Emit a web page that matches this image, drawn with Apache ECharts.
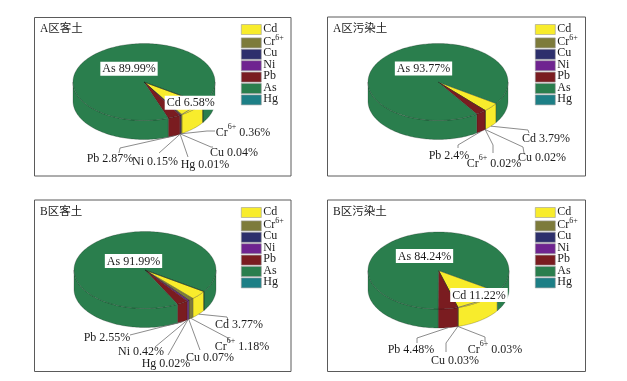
<!DOCTYPE html>
<html>
<head>
<meta charset="utf-8">
<style>html,body{margin:0;padding:0;background:#fff}#c{width:627px;height:381px}</style>
<script src="https://cdn.jsdelivr.net/npm/echarts@6/dist/echarts.min.js"></script>
</head>
<body>
<div id="c"></div>
<script>
// ---- data ----
const categories = ['Cd', 'Cr6+', 'Cu', 'Ni', 'Pb', 'As', 'Hg'];
const panelTitles = ['A区客土', 'A区污染土', 'B区客土', 'B区污染土'];
const valuesA1 = [6.58, 0.36, 0.04, 0.15, 2.87, 89.99, 0.01];
const valuesA2 = [3.79, 0.02, 0.02, 0, 2.4, 93.77, 0];
const valuesB1 = [3.77, 1.18, 0.07, 0.42, 2.55, 91.99, 0.02];
const valuesB2 = [11.22, 0.03, 0.03, 0, 4.48, 84.24, 0];

// ---- styles ----
const colors = ['#f8ec2c', '#7d7b3b', '#2d2f6c', '#6f2490', '#7a1c20', '#2a7e4d', '#1d7f86'];
const SERIF = '"Liberation Serif","Noto Sans CJK SC",serif';

// ---- layout ----
// each label: text centre, then the elbow points of its leader line; via: meet the pie at another slice
const layouts = [
  { values: valuesA1, frame: [34.5, 17.5, 256.5, 158.5], c: [144, 82], rx: 71, ry: 38.5, depth: 19, start: 124,
    title: [40, 23], legend: [241, 22.5],
    labels: {
      As: { at: [129, 68.7], box: true },
      Cd: { at: [190.7, 102.7], box: true, inner: 1, via: 'Cr6+', pts: [[191.5, 108.5]] },
      'Cr6+': { at: [243, 132.7], pts: [[207, 131], [215, 131]] },
      Cu: { at: [234, 152.3], pts: [[211, 147], [213, 147]] },
      Hg: { at: [205, 164.3], via: 'Ni', pts: [[188, 157]] },
      Ni: { at: [155, 161], pts: [[159, 153]] },
      Pb: { at: [110, 158.3], pts: [[120, 148], [119, 153]] }
    } },
  { values: valuesA2, frame: [327.5, 17, 258, 159], c: [438, 82], rx: 70, ry: 38.5, depth: 19, start: 124,
    title: [333, 23], legend: [535, 22.5],
    labels: {
      As: { at: [423.5, 68.5], box: true },
      Cd: { at: [546, 138], pts: [[528, 130], [529, 133]] },
      'Cr6+': { at: [494, 163], pts: [[493, 145], [493, 153]] },
      Cu: { at: [542, 157], pts: [[523, 147], [524, 153]] },
      Pb: { at: [449, 155.5], pts: [[458, 145], [458, 148]] }
    } },
  { values: valuesB1, frame: [34.5, 200, 256.5, 171.5], c: [145, 270], rx: 71, ry: 38.5, depth: 19, start: 124,
    title: [40, 206], legend: [241, 205.5],
    labels: {
      As: { at: [133.5, 261], box: true },
      Cd: { at: [239, 324], pts: [[227, 317], [228, 320]] },
      'Cr6+': { at: [242, 346], pts: [[228, 338], [230, 342]] },
      Cu: { at: [210, 357], pts: [[200, 350]] },
      Hg: { at: [166, 363], via: 'Ni', pts: [[168, 355]] },
      Ni: { at: [141, 351], pts: [[155, 347]] },
      Pb: { at: [107, 337], pts: [[130, 335]] }
    } },
  { values: valuesB2, frame: [327.5, 200, 258, 171.5], c: [438.5, 270.5], rx: 70.5, ry: 38.5, depth: 19, start: 123.5,
    title: [333, 206], legend: [535, 205.5],
    labels: {
      As: { at: [424.5, 256], box: true },
      Cd: { at: [479, 295], box: true, inner: 1, via: 'Cr6+', pts: [[478, 301.5]] },
      'Cr6+': { at: [495, 349], pts: [[485, 337], [485, 342]] },
      Cu: { at: [455, 360], pts: [[446, 343], [446, 352]] },
      Pb: { at: [411, 349], pts: [[417, 338], [417, 343]] }
    } }
];

function point(p, deg, r, dy) {
  const a = deg * Math.PI / 180;
  return [p.c[0] + p.rx * r * Math.sin(a), p.c[1] - p.ry * r * Math.cos(a) + (dy || 0)];
}
function arc(p, a0, a1, dy) {
  const n = Math.max(1, Math.ceil(Math.abs(a1 - a0) / 1.5));
  const out = [];
  for (let i = 0; i <= n; i++) out.push(point(p, a0 + (a1 - a0) * i / n, 1, dy));
  return out;
}
function midAngle(p, idx) {
  const total = p.values.reduce((s, v) => s + v, 0);
  const before = p.values.slice(0, idx).reduce((s, v) => s + v, 0);
  return p.start + (before + p.values[idx] / 2) / total * 360;
}
const edge = 'rgba(20,20,20,0.45)';
const leader = '#6e6e6e';

function sliceRenderer(p, idx) {
  const cat = categories[idx];
  return function (params, api) {
    const value = api.value(0);
    if (!value) return null;
    const total = p.values.reduce((s, v) => s + v, 0);
    const before = p.values.slice(0, idx).reduce((s, v) => s + v, 0);
    const a0 = p.start + before / total * 360;
    const a1 = a0 + value / total * 360;
    const color = colors[idx];
    const children = [];
    // side wall: the part of the slice that faces the viewer
    const wallAt = (lo, hi) => {
      if (hi <= lo) return;
      children.push({ type: 'polygon', silent: true, z2: 1,
        shape: { points: arc(p, lo, hi, 0).concat(arc(p, hi, lo, p.depth)) },
        style: { fill: color, stroke: edge, lineWidth: 0.5 } });
    };
    wallAt(Math.max(a0, 90), Math.min(a1, 270));
    wallAt(Math.max(a0 - 360, 90), Math.min(a1 - 360, 270));
    // top face
    children.push({ type: 'polygon', silent: true, z2: 2,
      shape: { points: [p.c].concat(arc(p, a0, a1, 0)) },
      style: { fill: color, stroke: edge, lineWidth: 0.5 } });
    // label + leader
    const lab = p.labels[cat];
    if (lab) {
      if (lab.pts) {
        const mid = midAngle(p, lab.via ? categories.indexOf(lab.via) : idx);
        const from = lab.inner ? point(p, mid, lab.inner, 0) : point(p, mid, 1, p.depth);
        children.push({ type: 'polyline', silent: true, z2: 5,
          shape: { points: [from].concat(lab.pts) },
          style: { stroke: leader, lineWidth: 0.8, fill: null } });
      }
      const sup = cat === 'Cr6+';
      const txt = sup ? '{n|Cr}{s|6+}{n| ' + value + '%}' : '{n|' + cat + ' ' + value + '%}';
      children.push({ type: 'text', silent: true, z2: 6,
        x: lab.at[0], y: lab.at[1],
        style: {
          text: txt, align: 'center', verticalAlign: 'middle',
          font: '12px ' + SERIF, fill: '#1c1c1c',
          backgroundColor: lab.box ? '#fff' : 'transparent',
          padding: lab.box ? [0.5, 2, 0.5, 2] : 0,
          rich: {
            n: { fontFamily: SERIF, fontSize: 12, fill: '#1c1c1c', lineHeight: 13, verticalAlign: 'bottom' },
            s: { fontFamily: SERIF, fontSize: 8, fill: '#1c1c1c', lineHeight: 13, verticalAlign: 'top', padding: [-3, 0, 0, 0] }
          }
        } });
    }
    return { type: 'group', children };
  };
}

const series = [];
layouts.forEach((p) => {
  categories.forEach((cat, i) => {
    series.push({
      type: 'custom', name: cat, coordinateSystem: 'none',
      data: [[p.values[i]]],
      itemStyle: { color: colors[i] },
      renderItem: sliceRenderer(p, i),
      animation: false, silent: true
    });
  });
});

const option = {
  animation: false,
  backgroundColor: '#fff',
  title: layouts.map((p, i) => ({
    text: panelTitles[i], left: p.title[0], top: p.title[1], padding: 0,
    textStyle: { fontFamily: SERIF, fontSize: 11.5, fontWeight: 'normal', color: '#222' }
  })),
  legend: layouts.map((p) => ({
    data: categories, orient: 'vertical', left: p.legend[0], top: p.legend[1], padding: 0,
    itemWidth: 20, itemHeight: 10, itemGap: -0.9, selectedMode: false,
    icon: 'rect',
    itemStyle: { borderColor: '#9a9a9a', borderWidth: 0.6 },
    formatter: (n) => n === 'Cr6+' ? '{a|Cr}{b|6+}' : '{a|' + n + '}',
    textStyle: {
      fontFamily: SERIF, fontSize: 12, color: '#222', lineHeight: 10, padding: [0, 0, 0, -3],
      rich: {
        a: { fontFamily: SERIF, fontSize: 12, color: '#222', lineHeight: 10, verticalAlign: 'bottom' },
        b: { fontFamily: SERIF, fontSize: 8, color: '#222', lineHeight: 10, verticalAlign: 'top', padding: [-4, 0, 0, 0] }
      }
    }
  })),
  graphic: layouts.map((p) => ({
    type: 'rect', silent: true, z: 0,
    shape: { x: p.frame[0], y: p.frame[1], width: p.frame[2], height: p.frame[3] },
    style: { fill: '#fff', stroke: '#5a5a5a', lineWidth: 1 }
  })),
  series
};
echarts.init(document.getElementById('c'), null, { renderer: 'canvas' }).setOption(option);
</script>
</body>
</html>
